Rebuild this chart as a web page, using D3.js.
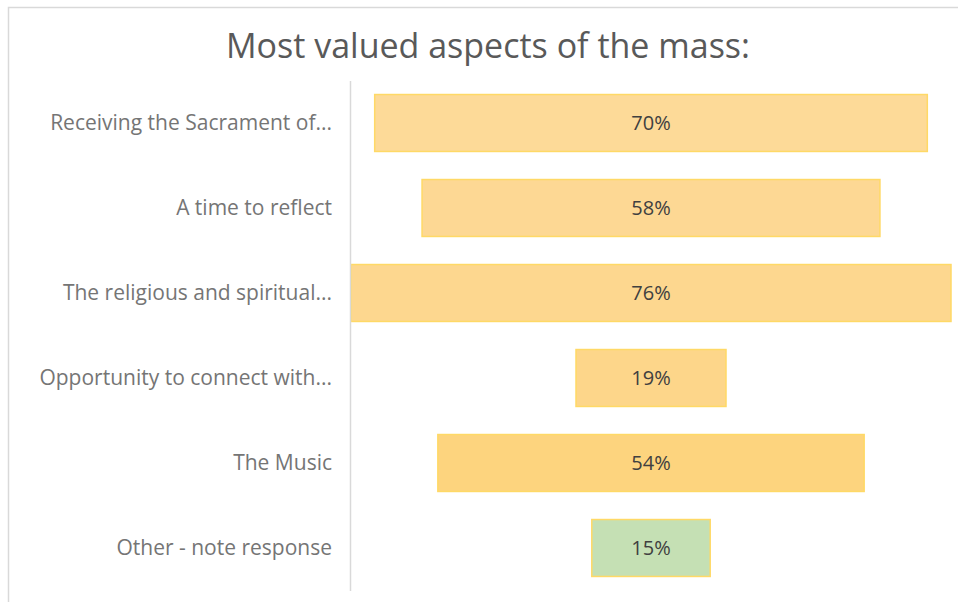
<!DOCTYPE html>
<html>
<head>
<meta charset="utf-8">
<script src="https://cdn.jsdelivr.net/npm/d3@7"></script>
<style>
  body { margin: 0; background: #fff; }
  svg { display: block; font-family: "Open Sans", "Liberation Sans", sans-serif; }
</style>
</head>
<body>
<div id="main-vis"></div>
<script>
// data
const categories = [
    'Receiving the Sacrament of...',
    'A time to reflect',
    'The religious and spiritual...',
    'Opportunity to connect with...',
    'The Music',
    'Other - note response'
]
const values = [70, 58, 76, 19, 54, 15]
const fills = ['#fdda98', '#fdd894', '#fdd78f', '#fdd68a', '#fdd47e', '#c5e0b4']

const width = 958, height = 602

const svg = d3.select('#main-vis').append('svg')
    .attr('width', width)
    .attr('height', height)

// chart frame
svg.append('path')
    .attr('d', `M8.5,${height} V7.5 H${width}`)
    .attr('fill', 'none')
    .attr('stroke', '#d9d9d9')
    .attr('stroke-width', 1.5)

svg.append('text')
    .attr('x', 488)
    .attr('y', 58)
    .attr('text-anchor', 'middle')
    .attr('fill', '#595959')
    .style('font-size', '34px')
    .text('Most valued aspects of the mass:')

const plotLeft = 351, plotRight = 951
const center = (plotLeft + plotRight) / 2

// funnel: bar width from value, centred on the plot
const x = d3.scaleLinear()
    .domain([0, d3.max(values)])
    .range([0, plotRight - plotLeft])

const y = d3.scaleBand()
    .domain(categories)
    .range([80.5, 590.5])
    .paddingInner(0.33)
    .paddingOuter(0.165)

const rows = categories.map((c, i) => ({ c: c, v: values[i], f: fills[i] }))

svg.selectAll('rect.bar')
    .data(rows)
    .join('rect')
        .attr('class', 'bar')
        .attr('x', d => center - x(d.v) / 2)
        .attr('y', d => y(d.c))
        .attr('width', d => x(d.v))
        .attr('height', y.bandwidth())
        .attr('fill', d => d.f)
        .attr('stroke', '#ffd966')
        .attr('stroke-width', 1.5)

svg.selectAll('text.val')
    .data(rows)
    .join('text')
        .attr('class', 'val')
        .attr('x', center)
        .attr('y', d => y(d.c) + y.bandwidth() / 2)
        .attr('dy', '0.35em')
        .attr('text-anchor', 'middle')
        .attr('fill', '#404040')
        .style('font-size', '20px')
        .text(d => d.v + '%')

// category axis
const axis = svg.append('g')
    .attr('transform', `translate(${plotLeft - 1},0)`)
    .call(d3.axisLeft(y).tickSize(0).tickPadding(18))

axis.select('.domain')
    .attr('stroke', '#d9d9d9')
    .attr('stroke-width', 1.5)
axis.selectAll('text')
    .attr('fill', '#757575')
    .style('font-size', '21px')
    .style('font-family', '"Open Sans", "Liberation Sans", sans-serif')
</script>
</body>
</html>
